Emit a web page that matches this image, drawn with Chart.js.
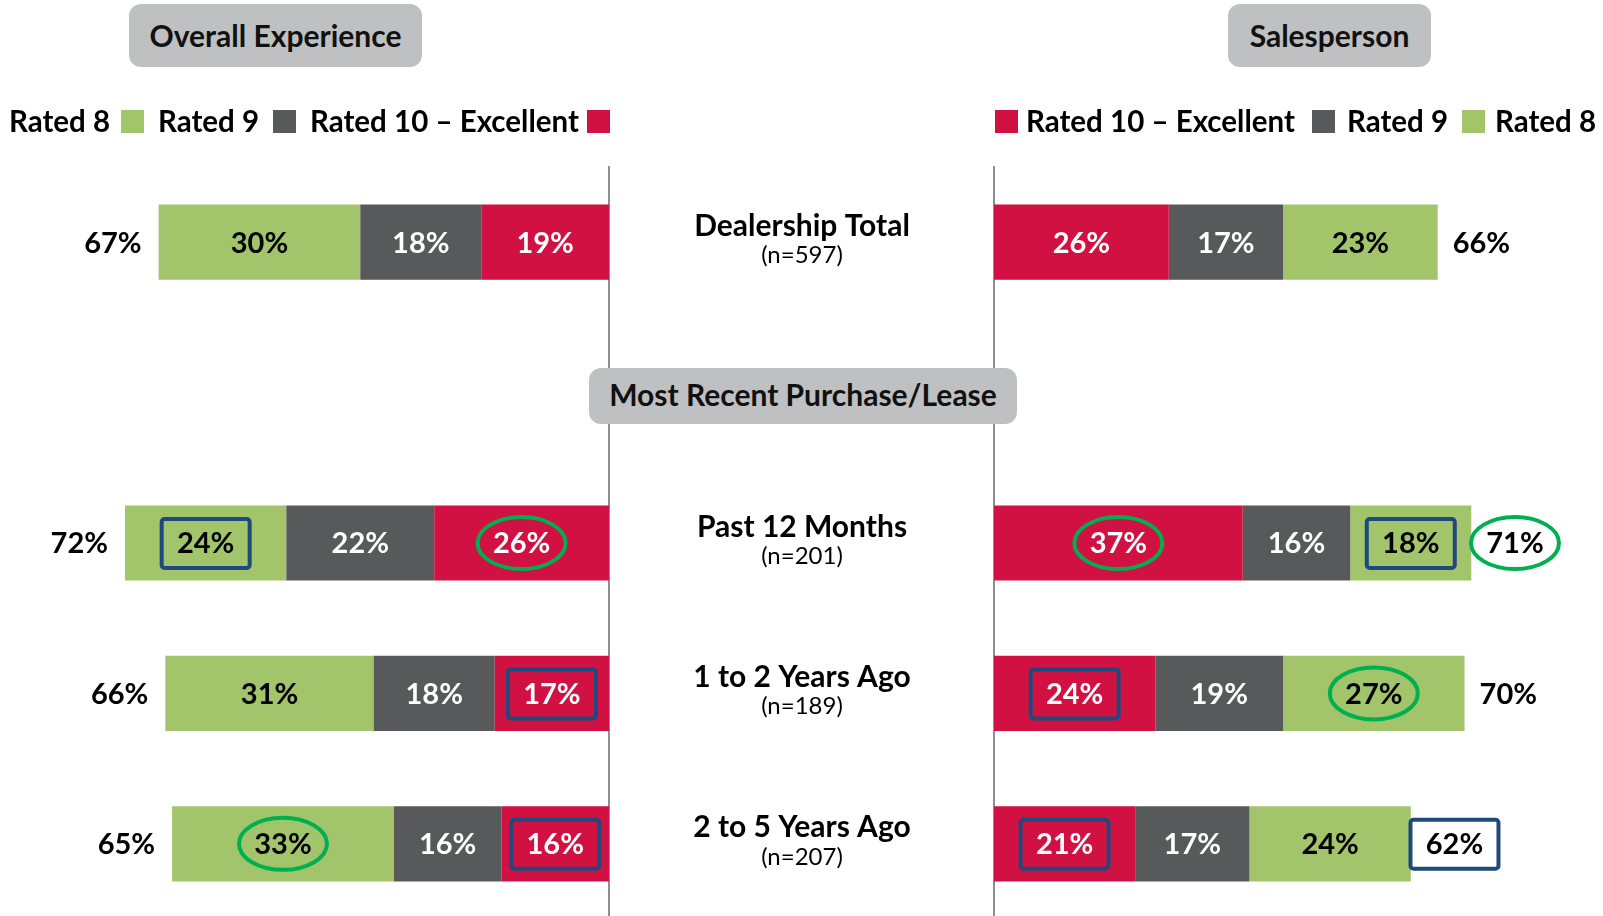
<!DOCTYPE html>
<html lang="en">
<head>
<meta charset="UTF-8">
<title>Overall Experience vs Salesperson</title>
<script src="https://cdn.jsdelivr.net/npm/chart.js"></script>
<style>
    html, body { margin: 0; padding: 0; background: #fff; }
    body { width: 1603px; height: 916px; overflow: hidden; position: relative; font-family: Lato, "Open Sans", sans-serif; color: #000; }
    canvas { position: absolute; top: 0; }
    .pill { position: absolute; z-index: 2; background: #BFC0C2; border-radius: 12px; font-weight: bold; font-size: 30px; display: flex; align-items: center; justify-content: center; color: #111; box-sizing: border-box; padding-bottom: 2px; }
    .lg { position: absolute; z-index: 2; font-weight: bold; font-size: 29.5px; line-height: 30px; top: 106px; white-space: nowrap; }
    .sw { position: absolute; z-index: 2; top: 110px; width: 23px; height: 23px; }
</style>
</head>
<body>
    <canvas id="leftChart" width="610" height="920" style="left:0"></canvas>
    <canvas id="rightChart" width="993" height="920" style="left:610px"></canvas>

    <div class="pill" style="left:129px; top:4px; width:293px; height:63px;">Overall Experience</div>
    <div class="pill" style="left:1228px; top:4px; width:203px; height:63px;">Salesperson</div>
    <div class="pill" style="left:589px; top:368px; width:428px; height:56px; padding-bottom:4px;">Most Recent Purchase/Lease</div>

    <div id="legends"></div>

<script>
    // categories (index 1 is the gap under the "Most Recent Purchase/Lease" header)
    const categories = ['Dealership Total', '', 'Past 12 Months', '1 to 2 Years Ago', '2 to 5 Years Ago'];
    const sampleSizes = ['(n=597)', '', '(n=201)', '(n=189)', '(n=207)'];
    const seriesNames = ['Rated 10 \u2013 Excellent', 'Rated 9', 'Rated 8'];

    // Overall Experience
    const overall10 = [19, null, 26, 17, 16];
    const overall9 = [18, null, 22, 18, 16];
    const overall8 = [30, null, 24, 31, 33];
    const overallTotal = [67, null, 72, 66, 65];

    // Salesperson
    const sales10 = [26, null, 37, 24, 21];
    const sales9 = [17, null, 16, 19, 17];
    const sales8 = [23, null, 18, 27, 24];
    const salesTotal = [66, null, 71, 70, 62];

    // callouts: 'box' = blue frame, 'ring' = green oval
    const overall10Marks = [null, null, 'ring', 'box', 'box'];
    const overall8Marks = [null, null, 'box', null, 'ring'];
    const overallTotalMarks = [null, null, null, null, null];
    const sales10Marks = [null, null, 'ring', 'box', 'box'];
    const sales8Marks = [null, null, 'box', 'ring', null];
    const salesTotalMarks = [null, null, 'ring', null, 'box'];

    const RED = '#D01142';
    const GRAY = '#58595B';
    const GREEN = '#A2C46B';
    const BLUE = '#1F497D';
    const RING = '#00B050';

    // legends (html)
    const legendItems = [
        ['t', 'Rated 8', 9], ['s', GREEN, 121], ['t', 'Rated 9', 158], ['s', GRAY, 273], ['t', seriesNames[0], 310], ['s', RED, 587],
        ['s', RED, 995], ['t', seriesNames[0], 1026], ['s', GRAY, 1312], ['t', 'Rated 9', 1347], ['s', GREEN, 1462], ['t', 'Rated 8', 1495]
    ];
    var lgBox = document.getElementById('legends');
    legendItems.forEach(function (it) {
        var d = document.createElement('div');
        if (it[0] == 't') { d.className = 'lg'; d.textContent = it[1]; }
        else { d.className = 'sw'; d.style.background = it[1]; }
        d.style.left = it[2] + 'px';
        lgBox.appendChild(d);
    });

    function drawMark(ctx, kind, x, y) {
        if (!kind) return;
        ctx.save();
        ctx.lineWidth = 4;
        if (kind == 'box') {
            ctx.strokeStyle = BLUE;
            ctx.beginPath();
            ctx.roundRect(x - 44, y - 24, 88, 49, 3);
            ctx.stroke();
        } else {
            ctx.strokeStyle = RING;
            ctx.beginPath();
            ctx.ellipse(x, y, 44, 26, 0, 0, Math.PI * 2);
            ctx.stroke();
        }
        ctx.restore();
    }

    const segLabels = {
        id: 'segLabels',
        afterDatasetsDraw(chart, args, opts) {
            const ctx = chart.ctx;
            ctx.save();
            ctx.font = 'bold 29px Lato';
            ctx.textBaseline = 'middle';
            chart.data.datasets.forEach(function (ds, di) {
                chart.getDatasetMeta(di).data.forEach(function (bar, i) {
                    const v = ds.data[i];
                    if (v == null) return;
                    const x = (bar.x + bar.base) / 2;
                    drawMark(ctx, ds.marks[i], x, bar.y);
                    ctx.fillStyle = ds.labelColor;
                    ctx.textAlign = 'center';
                    ctx.fillText(v + '%', x, bar.y + 1);
                });
            });
            // totals at the outer end of each stack
            const last = chart.getDatasetMeta(chart.data.datasets.length - 1).data;
            opts.totals.forEach(function (t, i) {
                if (t == null) return;
                const bar = last[i];
                const txt = t + '%';
                const w = ctx.measureText(txt).width;
                const cx = opts.side == 'left' ? bar.x - 17 - w / 2 : bar.x + 15 + w / 2;
                drawMark(ctx, opts.marks[i], cx, bar.y);
                ctx.fillStyle = '#000';
                ctx.textAlign = 'center';
                ctx.fillText(txt, cx, bar.y + 1);
            });
            // row names in the middle gap
            if (opts.rowNames) {
                const ys = chart.scales.y;
                categories.forEach(function (c, i) {
                    if (!c) return;
                    const y = ys.getPixelForValue(i);
                    ctx.fillStyle = '#000';
                    ctx.textAlign = 'center';
                    ctx.font = 'bold 30px Lato';
                    ctx.fillText(c, opts.rowNames, y - 16);
                    ctx.font = '24px Lato';
                    ctx.fillText(sampleSizes[i], opts.rowNames, y + 13);
                });
            }
            ctx.restore();
        }
    };

    function makeChart(id, sets, side, totals, marks, pad, rowNames) {
        return new Chart(document.getElementById(id), {
            type: 'bar',
            data: {
                labels: categories,
                datasets: sets.map(function (s, k) {
                    return {
                        label: seriesNames[k],
                        data: s[0],
                        marks: s[1],
                        backgroundColor: [RED, GRAY, GREEN][k],
                        labelColor: k == 2 ? '#000' : '#fff',
                        barPercentage: 1,
                        categoryPercentage: 0.5,
                        borderWidth: 0
                    };
                })
            },
            options: {
                indexAxis: 'y',
                responsive: false,
                animation: false,
                layout: { padding: pad },
                plugins: {
                    legend: { display: false },
                    tooltip: { enabled: false },
                    segLabels: { side: side, totals: totals, marks: marks, rowNames: rowNames }
                },
                scales: {
                    x: { stacked: true, reverse: side == 'left', min: 0, max: 90, display: false },
                    y: {
                        stacked: true,
                        position: side == 'left' ? 'right' : 'left',
                        grid: { display: false, drawTicks: false },
                        ticks: { display: false },
                        border: { display: true, color: '#8E8E8E', width: 2 }
                    }
                }
            },
            plugins: [segLabels]
        });
    }

    makeChart('leftChart',
        [[overall10, overall10Marks], [overall9, []], [overall8, overall8Marks]],
        'left', overallTotal, overallTotalMarks,
        { left: 4, right: 1, top: 167, bottom: 1 }, null);

    makeChart('rightChart',
        [[sales10, sales10Marks], [sales9, []], [sales8, sales8Marks]],
        'right', salesTotal, salesTotalMarks,
        { left: 384, right: 4, top: 167, bottom: 1 }, 192);
</script>
</body>
</html>
